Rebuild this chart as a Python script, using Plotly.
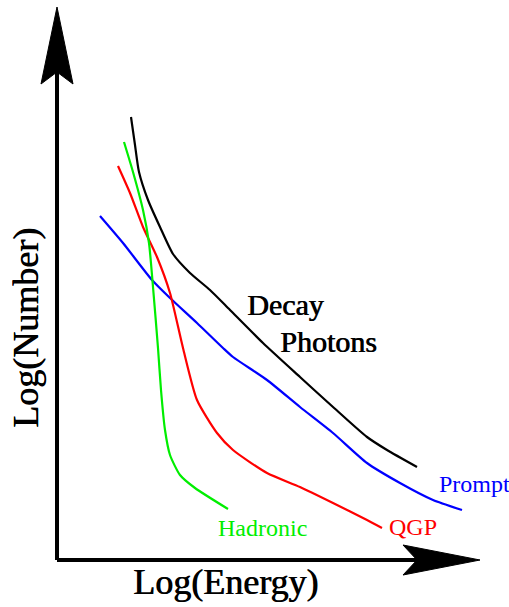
import plotly.graph_objects as go

# Schematic curves (arbitrary log units)
decay_x = [131, 135, 139, 148, 160, 173, 190, 210, 230, 263, 300, 333, 367, 387, 417]
decay_y = [490, 462, 435, 407, 380, 353, 334, 317, 297, 264, 230, 200, 170, 157, 140]

prompt_x = [100, 123, 152, 170, 197, 223, 233, 267, 300, 333, 367, 400, 433, 462]
prompt_y = [391, 364, 327, 309, 284, 259, 250, 227, 200, 174, 144, 124, 107, 97]

qgp_x = [118, 130, 143, 157, 170, 183, 197, 217, 233, 267, 300, 333, 367, 382]
qgp_y = [441, 414, 380, 350, 314, 259, 207, 174, 157, 134, 120, 104, 87, 79]

had_x = [124, 133, 143, 149, 153, 158, 161, 165, 170, 180, 195, 228]
had_y = [465, 435, 397, 364, 320, 259, 217, 177, 152, 132, 119, 98]

SERIF = "Liberation Serif"

fig = go.Figure()
for xs, ys, c in [(decay_x, decay_y, "black"), (prompt_x, prompt_y, "#0000ff"),
                  (qgp_x, qgp_y, "#ff0000"), (had_x, had_y, "#00ee00")]:
    fig.add_trace(go.Scatter(x=xs, y=ys, mode="lines",
                             line=dict(color=c, width=2.2, shape="spline", smoothing=0.6),
                             hoverinfo="skip", showlegend=False))

# axis arrows
fig.add_shape(type="line", x0=57, y0=47, x1=57, y1=535, line=dict(color="black", width=4))
fig.add_shape(type="line", x0=57, y0=47, x1=417, y1=47, line=dict(color="black", width=4))
fig.add_shape(type="path", path="M 57 600 L 73 523 L 57 535 L 41 523 Z",
              fillcolor="black", line=dict(color="black", width=1))
fig.add_shape(type="path", path="M 480 47 L 403 62 L 417 47 L 403 32 Z",
              fillcolor="black", line=dict(color="black", width=1))

def txt(x, y, s, size, color, angle=0, heavy=False):
    f = dict(family=SERIF, size=size, color=color)
    if heavy:
        f["shadow"] = "0.7px 0px 0px " + color
    fig.add_annotation(x=x, y=y, text=s, showarrow=False, textangle=angle,
                       font=f, xanchor="center", yanchor="middle")

txt(225, 25, "Log(Energy)", 36, "black", heavy=True)
txt(26, 279, "Log(Number)", 36, "black", -90, heavy=True)
txt(285, 303, "Decay", 30, "black", heavy=True)
txt(328, 266, "Photons", 30, "black", heavy=True)
txt(474, 123, "Prompt", 24, "#0000ff")
txt(413, 80, "QGP", 24, "#ff0000")
txt(262, 79, "Hadronic", 24, "#00ee00")

fig.update_layout(width=509, height=607, margin=dict(l=0, r=0, t=0, b=0),
                  plot_bgcolor="white", paper_bgcolor="white",
                  xaxis=dict(range=[0, 509], visible=False, fixedrange=True),
                  yaxis=dict(range=[0, 607], visible=False, fixedrange=True))
fig.write_html("out.html", config={"displayModeBar": False},
               post_script="document.body.style.margin='0px';document.body.style.overflow='hidden';")
